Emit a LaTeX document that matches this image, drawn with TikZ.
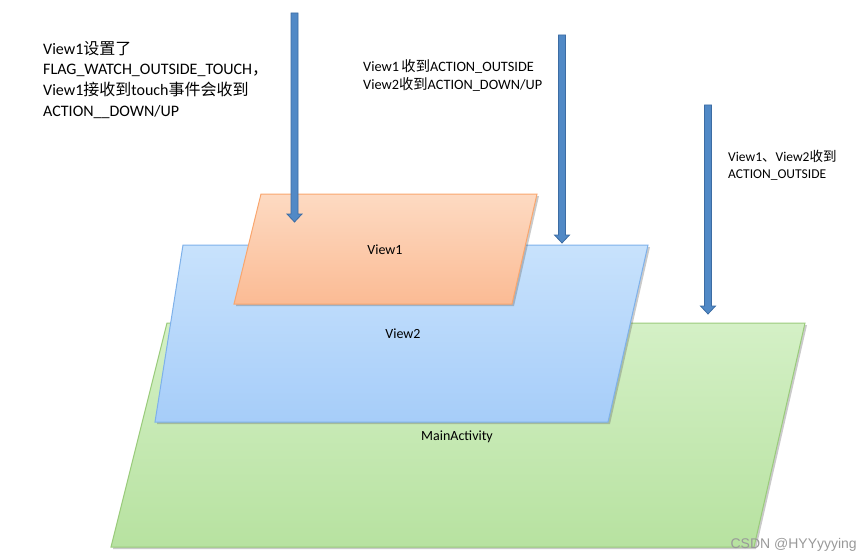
\documentclass[tikz,border=0pt]{standalone}
\usepackage{fontspec}
\setmainfont{Carlito}
\newfontfamily\cjk{Noto Sans CJK SC}
\newfontfamily\wmfont{Liberation Sans}
\usetikzlibrary{arrows.meta,shadows,calc}

\definecolor{orangeTop}{HTML}{FDDAC2}
\definecolor{orangeBot}{HTML}{FBBB94}
\definecolor{orangeEdge}{HTML}{F9A66E}
\definecolor{blueTop}{HTML}{C8E2FC}
\definecolor{blueBot}{HTML}{A6CDF9}
\definecolor{blueEdge}{HTML}{7EB1EA}
\definecolor{greenTop}{HTML}{D4F0C6}
\definecolor{greenBot}{HTML}{B7E2A0}
\definecolor{greenEdge}{HTML}{9ACB7B}
\definecolor{arrowFill}{HTML}{5189C6}
\definecolor{arrowLine}{HTML}{3C6CA3}

\tikzset{
  plane/.style={line width=1pt, line join=miter,
    drop shadow={shadow xshift=2pt, shadow yshift=-2pt, opacity=0.35, fill=black!60}},
  flowshape/.style={fill=arrowFill, draw=arrowLine, line width=0.8pt, line join=miter},
  bigtxt/.style={font=\fontsize{16}{19}\selectfont, anchor=base west, inner sep=0pt},
  midtxt/.style={font=\fontsize{14.3}{17}\selectfont, anchor=base west, inner sep=0pt},
  smalltxt/.style={font=\fontsize{13.5}{16}\selectfont, anchor=base west, inner sep=0pt},
  lbl/.style={font=\fontsize{14}{16}\selectfont, anchor=base, inner sep=0pt},
  wmark/.style={font=\wmfont\fontsize{14}{16}\selectfont, text=black!40, anchor=base east, inner sep=0pt}
}

% block arrow from #1 (tail) down to #2 (tip)
\newcommand\blockarrow[2]{%
  \path[flowshape]
    ($(#1)+(-3.5,0)$) -- ($(#2)+(-3.5,-8)$) -- ($(#2)+(-7.5,-8)$) -- (#2)
    -- ($(#2)+(7.5,-8)$) -- ($(#2)+(3.5,-8)$) -- ($(#1)+(3.5,0)$) -- cycle;}

\begin{document}
\begin{tikzpicture}[x=1pt,y=-1pt]
\useasboundingbox (0,0) rectangle (864,559);

% MainActivity plane
\path[plane, draw=greenEdge, top color=greenTop, bottom color=greenBot]
  (167,323) coordinate (g1) -- (805,323) coordinate (g2)
  -- (754,547) coordinate (g3) -- (111,547) coordinate (g4) -- cycle;
% View2 plane
\path[plane, draw=blueEdge, top color=blueTop, bottom color=blueBot]
  (183,245) coordinate (b1) -- (648,245) coordinate (b2)
  -- (608,422) coordinate (b3) -- (155,422) coordinate (b4) -- cycle;
% View1 plane
\path[plane, draw=orangeEdge, top color=orangeTop, bottom color=orangeBot]
  (261,194) coordinate (o1) -- (537,194) coordinate (o2)
  -- (512,304) coordinate (o3) -- (234,304) coordinate (o4) -- cycle;

% plane labels
\node[lbl] (v1) at (385,254) {View1};
\node[lbl] (v2) at (403,338) {View2};
\node[lbl] (ma) at (457,440) {MainActivity};

% touch arrows
\coordinate (s1) at (294.5,13);  \coordinate (e1) at (294.5,222);
\coordinate (s2) at (562,35);    \coordinate (e2) at (562,243);
\coordinate (s3) at (708,105);   \coordinate (e3) at (708,314);
\blockarrow{s1}{e1}
\blockarrow{s2}{e2}
\blockarrow{s3}{e3}

% notes
\node[bigtxt] (n1a) at (43,54.5) {View1{\cjk 设置了}};
\node[bigtxt] (n1b) at (43,75) {FLAG\_WATCH\_OUTSIDE\_TOUCH{\cjk ，}};
\node[bigtxt] (n1c) at (43,96) {View1{\cjk 接收到}touch{\cjk 事件会收到}};
\node[bigtxt] (n1d) at (43,116.5) {ACTION\_\_DOWN/UP};

\node[midtxt] (n2a) at (363,71.5) {View1{\cjk\,收到}ACTION\_OUTSIDE};
\node[midtxt] (n2b) at (363,89.5) {View2{\cjk 收到}ACTION\_DOWN/UP};

\node[smalltxt] (n3a) at (728,161) {View1{\cjk 、}View2{\cjk 收到}};
\node[smalltxt] (n3b) at (728,178.5) {ACTION\_OUTSIDE};

\node[wmark] (wm) at (857,548) {CSDN @HYYyyying};
\end{tikzpicture}
\end{document}
